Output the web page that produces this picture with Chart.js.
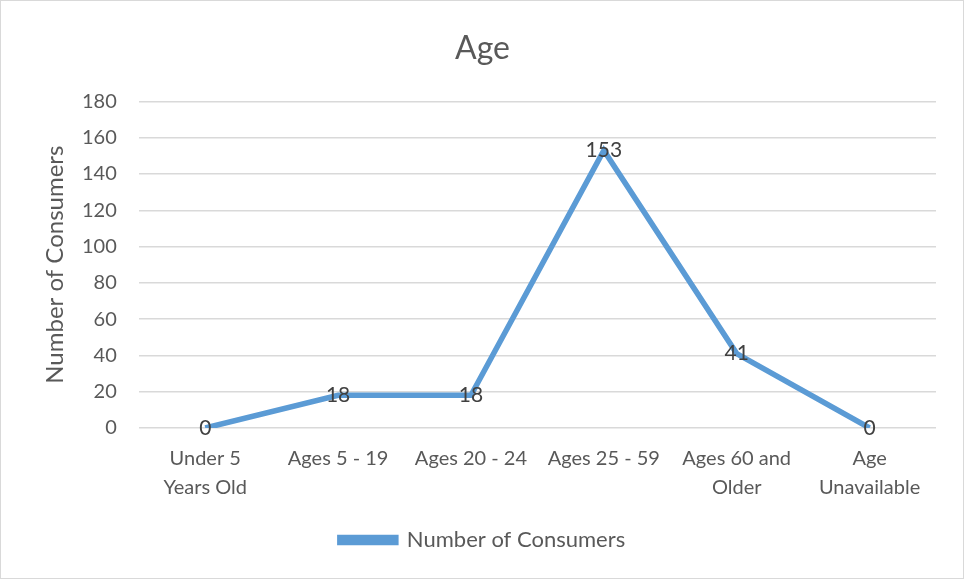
<!DOCTYPE html>
<html>
<head>
<meta charset="utf-8">
<script src="https://cdn.jsdelivr.net/npm/chart.js@4"></script>
<style>
  body { margin: 0; background: #fff; }
  #wrap { width: 964px; height: 579px; box-sizing: border-box; border: 1px solid #d9d9d9; }
</style>
</head>
<body>
<div id="wrap"><canvas id="ageChart" width="962" height="577"></canvas></div>
<script>
// values
const categories = [["Under 5", "Years Old"], "Ages 5 - 19", "Ages 20 - 24", "Ages 25 - 59", ["Ages 60 and", "Older"], ["Age", "Unavailable"]];
const consumers = [0, 18, 18, 153, 41, 0];
const yTicks = [0, 20, 40, 60, 80, 100, 120, 140, 160, 180];
const yTitle = "Number of Consumers";

const fontFamily = "Lato, 'Liberation Sans', sans-serif";
const textColor = "#595959";
const lineColor = "#5b9bd5";

// draw the value labels centred on each point, like the original
const pointLabels = {
    id: "pointLabels",
    afterDatasetsDraw(chart) {
        const ctx = chart.ctx;
        ctx.save();
        ctx.font = "21px " + fontFamily;
        ctx.fillStyle = "#404040";
        ctx.textAlign = "center";
        ctx.textBaseline = "middle";
        chart.getDatasetMeta(0).data.forEach((pt, i) => {
            ctx.fillText(String(consumers[i]), pt.x, pt.y);
        });
        ctx.restore();
    }
};

// vertical axis title, placed by hand so it sits close to the tick labels
const axisTitle = {
    id: "axisTitle",
    afterDraw(chart) {
        const ctx = chart.ctx;
        const area = chart.chartArea;
        ctx.save();
        ctx.translate(54, (area.top + area.bottom) / 2);
        ctx.rotate(-Math.PI / 2);
        ctx.font = "24px " + fontFamily;
        ctx.fillStyle = textColor;
        ctx.textAlign = "center";
        ctx.textBaseline = "middle";
        ctx.fillText(yTitle, 0, 0);
        ctx.restore();
    }
};

const ctx = document.getElementById("ageChart").getContext("2d");
const chart = new Chart(ctx, {
    type: "line",
    data: {
        labels: categories,
        datasets: [{
            label: "Number of Consumers",
            data: consumers,
            borderColor: lineColor,
            backgroundColor: lineColor,
            borderWidth: 5.5,
            pointRadius: 0,
            tension: 0,
            fill: false
        }]
    },
    options: {
        responsive: false,
        animation: false,
        layout: { padding: { left: 28, right: 27, top: 22, bottom: 17 } },
        plugins: {
            title: {
                display: true,
                text: "Age",
                color: textColor,
                font: { family: fontFamily, size: 32, weight: "normal" },
                padding: { top: 6, bottom: 34 }
            },
            legend: {
                position: "bottom",
                labels: {
                    color: textColor,
                    font: { family: fontFamily, size: 22 },
                    boxWidth: 56,
                    boxHeight: 5,
                    padding: 8
                }
            },
            tooltip: { enabled: false }
        },
        scales: {
            x: {
                offset: true,
                grid: { display: false },
                border: { display: false },
                afterFit: (axis) => { axis.height += 11; },
                ticks: {
                    color: textColor,
                    font: { family: fontFamily, size: 20, lineHeight: 1.45 },
                    maxRotation: 0,
                    autoSkip: false,
                    padding: 8
                }
            },
            y: {
                min: 0,
                max: 180,
                afterBuildTicks: (axis) => { axis.ticks = yTicks.map(v => ({ value: v })); },
                afterFit: (axis) => { axis.width += 31; },
                grid: { color: "#d9d9d9", lineWidth: 1.5, drawTicks: false },
                border: { display: false },
                ticks: {
                    color: textColor,
                    font: { family: fontFamily, size: 20 },
                    padding: 22
                }
            }
        }
    },
    plugins: [pointLabels, axisTitle]
});
</script>
</body>
</html>
